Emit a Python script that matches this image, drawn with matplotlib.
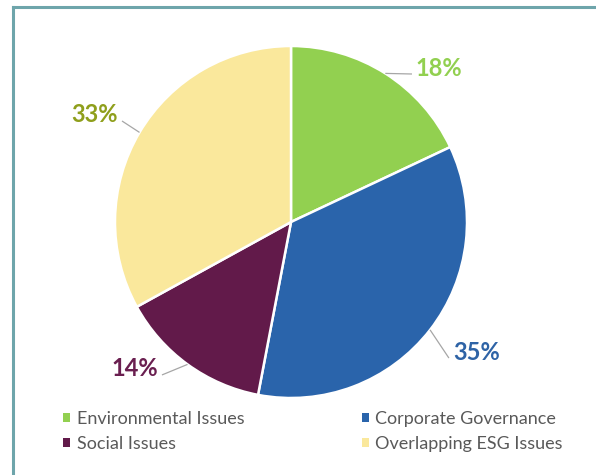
import matplotlib.pyplot as plt
from matplotlib.lines import Line2D
from matplotlib.patches import Patch
import numpy as np

categories = ['Environmental Issues', 'Corporate Governance', 'Social Issues', 'Overlapping ESG Issues']
shares = [18, 35, 14, 33]
colors = ['#92d050', '#2a64ab', '#621a4a', '#fae89c']
label_colors = ['#92d050', '#2e63a6', '#6a1f50', '#8f9f1c']
# inner edge of each percentage label, in pie data units
label_pos = [(0.710, 0.875), (0.920, -0.739), (-0.756, -0.835), (-0.983, 0.608)]

plt.rcParams['font.family'] = ['Lato', 'DejaVu Sans']

fig = plt.figure(figsize=(5.96, 4.75), dpi=100)
W, H = 596, 475
cx, cy, r = 291, 222, 176
ax = fig.add_axes([(cx - r) / W, (H - cy - r) / H, 2 * r / W, 2 * r / H])

wedges, _ = ax.pie(shares, colors=colors, startangle=90, counterclock=False,
                   radius=1, wedgeprops=dict(edgecolor='white', linewidth=1.8))
ax.set_xlim(-1, 1)
ax.set_ylim(-1, 1)
ax.axis('off')

# percentage labels, each tied to the middle of its wedge edge by a thin leader
px = 1 / r
for w, val, col, (tx, ty) in zip(wedges, shares, label_colors, label_pos):
    mid = np.deg2rad((w.theta1 + w.theta2) / 2)
    ex, ey = np.cos(mid), np.sin(mid)
    side = 1 if tx > 0 else -1
    ax.text(tx, ty, f'{val}%', ha='left' if side > 0 else 'right', va='center',
            fontsize=17, fontweight='bold', color=col)
    lx, ly = tx - side * 4 * px, ty - 6 * px
    ax.plot([ex, lx], [ey, ly], color='#a6a6a6', lw=0.9, clip_on=False,
            solid_capstyle='butt')

handles = [Patch(facecolor=c, edgecolor='none') for c in colors]
order = [0, 2, 1, 3]
leg = fig.legend([handles[i] for i in order], [categories[i] for i in order],
                 ncol=2, loc='upper left', bbox_to_anchor=(63 / W, 1 - 411 / H),
                 frameon=False, fontsize=13, handlelength=0.4, handleheight=0.4,
                 handletextpad=0.35, columnspacing=6.5, labelspacing=0.52,
                 borderaxespad=0, borderpad=0)
for t in leg.get_texts():
    t.set_color('#595959')

# frame edges
fig.add_artist(Line2D([13 / W, 13 / W], [0, 1 - 7 / H], color='#6ea5ab', lw=2.2))
fig.add_artist(Line2D([13 / W, 1], [1 - 7 / H, 1 - 7 / H], color='#6ea5ab', lw=2.2))

fig.savefig('out.png', dpi=100)
